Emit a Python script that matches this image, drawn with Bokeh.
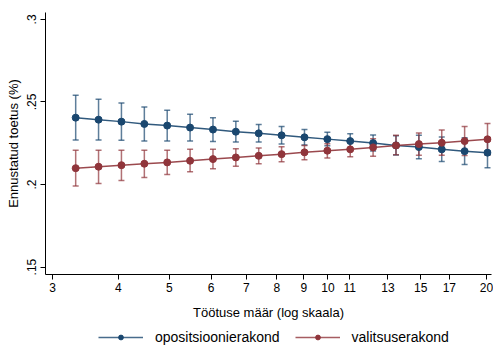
from bokeh.plotting import figure
from bokeh.layouts import column
from bokeh.models import (FixedTicker, Range1d, Legend, LegendItem, Whisker,
                          TeeHead, ColumnDataSource)
from bokeh.embed import file_html
from bokeh.resources import INLINE

# ---- data ----
unemployment = [3.320, 3.669, 4.055, 4.482, 4.953, 5.474, 6.050, 6.686, 7.389,
                8.166, 9.025, 9.974, 11.023, 12.182, 13.464, 14.880, 16.445,
                18.174, 20.086]

opp_mean = [0.2405, 0.2393, 0.2381, 0.2367, 0.2357, 0.2345, 0.2333, 0.2320,
            0.2310, 0.2298, 0.2286, 0.2275, 0.2263, 0.2251, 0.2237, 0.2227,
            0.2213, 0.2202, 0.2193]
opp_upper = [0.2541, 0.2517, 0.2494, 0.2470, 0.2450, 0.2426, 0.2405, 0.2383,
             0.2363, 0.2351, 0.2333, 0.2316, 0.2308, 0.2300, 0.2296, 0.2298,
             0.2288, 0.2284, 0.2284]
opp_lower = [0.2269, 0.2269, 0.2268, 0.2263, 0.2264, 0.2264, 0.2260, 0.2258,
             0.2257, 0.2245, 0.2239, 0.2235, 0.2219, 0.2203, 0.2179, 0.2156,
             0.2139, 0.2121, 0.2102]

gov_mean = [0.2099, 0.2108, 0.2117, 0.2126, 0.2134, 0.2144, 0.2154, 0.2164,
            0.2174, 0.2184, 0.2195, 0.2205, 0.2213, 0.2225, 0.2237, 0.2245,
            0.2253, 0.2263, 0.2274]
gov_upper = [0.2207, 0.2207, 0.2207, 0.2207, 0.2207, 0.2213, 0.2213, 0.2217,
             0.2221, 0.2229, 0.2237, 0.2247, 0.2255, 0.2278, 0.2298, 0.2312,
             0.2330, 0.2351, 0.2369]
gov_lower = [0.1991, 0.2006, 0.2024, 0.2043, 0.2061, 0.2077, 0.2095, 0.2111,
             0.2126, 0.2138, 0.2150, 0.2160, 0.2168, 0.2172, 0.2181, 0.2178,
             0.2177, 0.2176, 0.2178]

x_ticks = [3, 4, 5, 6, 7, 8, 9, 10, 11, 13, 15, 17, 20]
y_ticks = [0.15, 0.2, 0.25, 0.3]
y_tick_labels = [".15", ".2", ".25", ".3"]
series_names = ["opositsioonierakond", "valitsuserakond"]

BLUE = "#1a476f"
RED = "#90353b"
FONT = "Liberation Sans"

p = figure(width=493, height=322, output_backend="svg", toolbar_location=None,
           x_axis_type="log",
           x_range=Range1d(2.9096, 20.44), y_range=Range1d(0.1455, 0.3042),
           min_border_left=45, min_border_right=2, min_border_top=12,
           min_border_bottom=48)
p.outline_line_color = None
p.grid.visible = False
p.background_fill_color = "white"
p.border_fill_color = "white"

# axes
xa = p.xaxis[0]
xa.ticker = FixedTicker(ticks=x_ticks, minor_ticks=[])
xa.major_label_overrides = {t: str(t) for t in x_ticks}
xa.axis_label = "Töötuse määr (log skaala)"
ya = p.yaxis[0]
ya.ticker = FixedTicker(ticks=y_ticks, minor_ticks=[])
ya.major_label_overrides = dict(zip(y_ticks, y_tick_labels))
ya.major_label_orientation = "vertical"
ya.axis_label = "Ennustatud toetus (%)"
for ax in (xa, ya):
    ax.axis_line_color = "black"
    ax.axis_line_width = 1
    ax.major_tick_line_color = "black"
    ax.major_tick_out = 5
    ax.major_tick_in = 0
    ax.minor_tick_line_color = None
    ax.major_label_text_font = FONT
    ax.major_label_text_font_size = "12px"
    ax.major_label_text_color = "black"
    ax.axis_label_text_font = FONT
    ax.axis_label_text_font_size = "13px"
    ax.axis_label_text_font_style = "normal"
    ax.axis_label_text_color = "black"
xa.major_label_standoff = 3
xa.axis_label_standoff = 10
ya.major_label_standoff = 4
ya.axis_label_standoff = 4

# legend strip below the chart
pl = figure(width=493, height=23, output_backend="svg", toolbar_location=None,
            x_range=Range1d(0, 1), y_range=Range1d(0, 1),
            min_border_left=45, min_border_right=2, min_border_top=0,
            min_border_bottom=0)
pl.axis.visible = False
pl.grid.visible = False
pl.outline_line_color = None

items = []
for name, mean, lo, hi, col in [(series_names[0], opp_mean, opp_lower, opp_upper, BLUE),
                                (series_names[1], gov_mean, gov_lower, gov_upper, RED)]:
    src = ColumnDataSource(dict(x=unemployment, y=mean, lo=lo, hi=hi))
    w = Whisker(base="x", upper="hi", lower="lo", source=src, dimension="height",
                line_color=col, line_alpha=0.7, line_width=1.5,
                upper_head=TeeHead(size=6, line_color=col, line_alpha=0.7, line_width=1.5),
                lower_head=TeeHead(size=6, line_color=col, line_alpha=0.7, line_width=1.5))
    p.add_layout(w)
    p.line("x", "y", source=src, line_color=col, line_width=1.5, line_alpha=0.9)
    p.scatter("x", "y", source=src, marker="circle", size=7,
              fill_color=col, line_color=col)
    # legend swatches: same data, but outside this strip's ranges (only legend glyphs show)
    l_ln = pl.line("x", "y", source=src, line_color=col, line_width=1.5, line_alpha=0.8)
    l_sc = pl.scatter("x", "y", source=src, marker="circle", size=6,
                      fill_color=col, line_color=col)
    items.append(LegendItem(label=name, renderers=[l_ln, l_sc]))

legend = Legend(items=items, location=(53, 0), orientation="horizontal",
                border_line_color=None, background_fill_alpha=0,
                glyph_width=45, glyph_height=12, label_standoff=12, spacing=15,
                label_text_font=FONT, label_text_font_size="14px",
                label_text_color="black", margin=0, padding=0)
pl.add_layout(legend, "center")

layout = column(p, pl, spacing=0)
open("out.html", "w").write(file_html(layout, INLINE))
